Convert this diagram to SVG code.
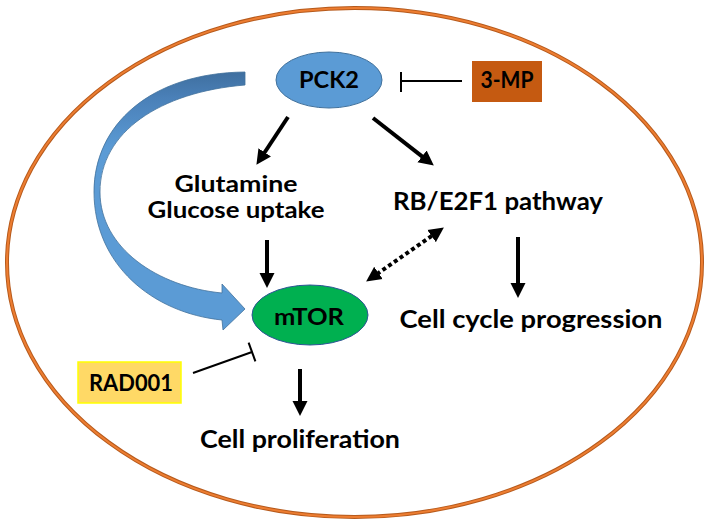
<svg xmlns="http://www.w3.org/2000/svg" width="709" height="524" viewBox="0 0 709 524">
<style>
text{font-family:"Lato","Liberation Sans",sans-serif;font-weight:bold;fill:#000;text-anchor:middle}
.lbl{font-size:24px}
.two{font-size:22.5px}
.nd{font-size:23px}
.arr{stroke:#000;stroke-width:4;fill:none;marker-end:url(#ah)}
.inh{stroke:#000;stroke-width:2;fill:none}
</style>
<defs>
<marker id="ah" markerUnits="userSpaceOnUse" markerWidth="16" markerHeight="16" refX="2" refY="7.5" orient="auto-start-reverse" viewBox="0 0 16 15">
<path d="M0,0 L15,7.5 L0,15 z" fill="#000"/>
</marker>
<linearGradient id="bg" x1="0" y1="72" x2="0" y2="330" gradientUnits="userSpaceOnUse">
<stop offset="0" stop-color="#3F6F9F"/>
<stop offset="0.1" stop-color="#4A80B8"/>
<stop offset="0.3" stop-color="#5B9BD5"/>
<stop offset="1" stop-color="#5B9BD5"/>
</linearGradient>
</defs>
<g id="cell">
<ellipse cx="354.5" cy="262.5" rx="347.5" ry="254.5" fill="none" stroke="#B65A1C" stroke-width="4"/>
<ellipse cx="354.5" cy="262.5" rx="347.5" ry="254.5" fill="none" stroke="#ED7D31" stroke-width="2"/>
</g>
<g id="connectors">
<path d="M245 72 C150 73 94 125 94 192 C94 264 152 313 222 320 L223 330 L245 309 L222 284 L222 293 C158 287 100 248 100 192 C100 132 160 92 245 85 Z" fill="url(#bg)" stroke="#41719C" stroke-width="0.8"/>
<line class="arr" x1="288" y1="117" x2="263.6" y2="154"/>
<line class="arr" x1="373" y1="118" x2="423.6" y2="157.6"/>
<line class="arr" x1="267" y1="240" x2="267" y2="275"/>
<line class="arr" x1="518" y1="237" x2="518" y2="285"/>
<line class="arr" x1="300" y1="369" x2="300" y2="403"/>
<line x1="376.8" y1="274.1" x2="433.2" y2="234.9" stroke="#000" stroke-width="4" stroke-dasharray="4 3" marker-start="url(#ah)" marker-end="url(#ah)"/>
<line class="inh" x1="462" y1="81" x2="402" y2="81"/>
<line class="inh" x1="401" y1="72" x2="401" y2="92"/>
<line class="inh" x1="193" y1="373" x2="252" y2="352"/>
<line class="inh" x1="248.6" y1="342.6" x2="255.4" y2="361.4"/>
</g>
<g id="PCK2">
<ellipse cx="329" cy="80" rx="53" ry="28" fill="#5B9BD5" stroke="#41719C" stroke-width="1"/>
<text class="nd" x="329" y="88" textLength="60" lengthAdjust="spacingAndGlyphs">PCK2</text>
</g>
<g id="MP3">
<rect x="472" y="61" width="70" height="41" fill="#C55A11"/>
<text class="nd" x="507" y="88" textLength="53" lengthAdjust="spacingAndGlyphs">3-MP</text>
</g>
<g id="mTOR">
<ellipse cx="310" cy="315" rx="58" ry="30" fill="#00B050" stroke="#2F5597" stroke-width="1"/>
<text class="nd" x="309" y="325" textLength="70" lengthAdjust="spacingAndGlyphs">mTOR</text>
</g>
<g id="RAD001">
<rect x="78" y="362" width="103" height="41" fill="#FFD966" stroke="#FFFF00" stroke-width="1.5"/>
<text class="nd" x="131" y="391" textLength="84" lengthAdjust="spacingAndGlyphs">RAD001</text>
</g>
<g id="glut">
<text class="two" x="236" y="192" textLength="123" lengthAdjust="spacingAndGlyphs">Glutamine</text>
<text class="two" x="236" y="218" textLength="177" lengthAdjust="spacingAndGlyphs">Glucose uptake</text>
</g>
<g id="rb">
<text class="lbl" x="498" y="210" textLength="210" lengthAdjust="spacingAndGlyphs">RB/E2F1 pathway</text>
</g>
<g id="cycle">
<text class="lbl" x="531" y="328" textLength="263" lengthAdjust="spacingAndGlyphs">Cell cycle progression</text>
</g>
<g id="prolif">
<text class="lbl" x="300" y="448" textLength="200" lengthAdjust="spacingAndGlyphs">Cell proliferation</text>
</g>
</svg>
